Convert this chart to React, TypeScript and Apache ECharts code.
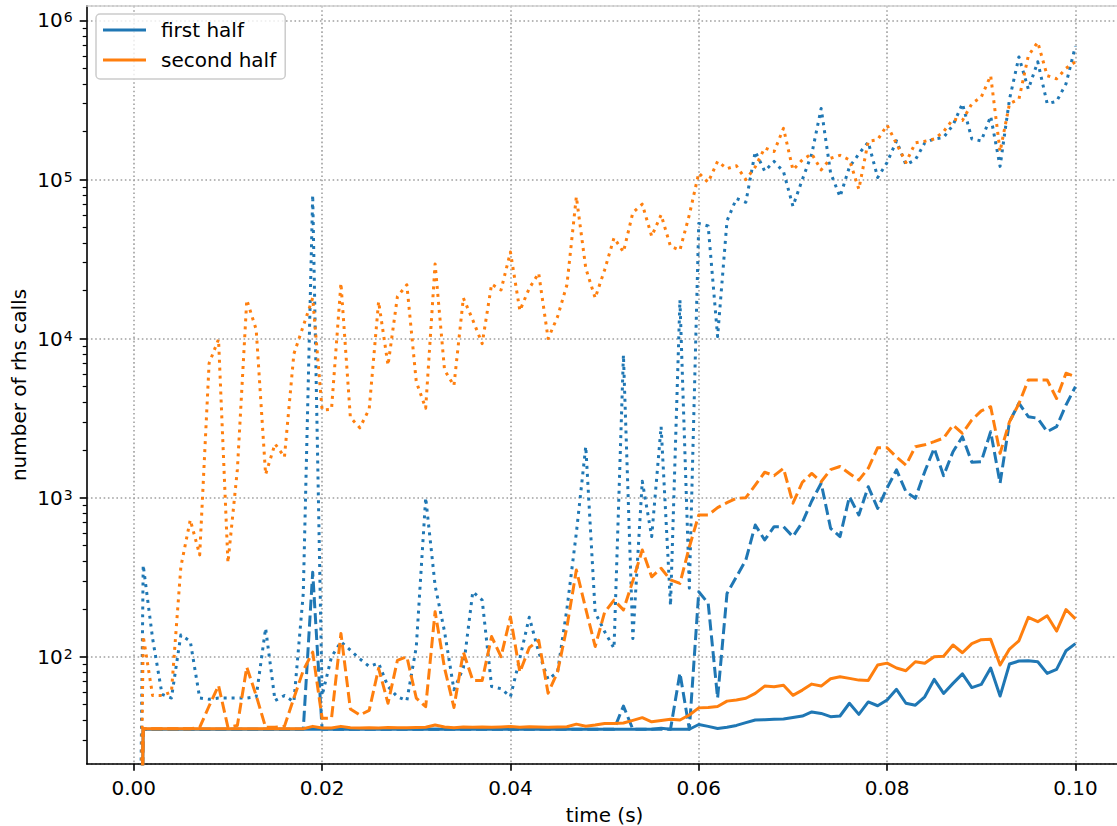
import React, { useEffect, useRef } from "react";
import * as echarts from "echarts";

// time (s)
const time = [
  0, 0.001, 0.002, 0.003, 0.004, 0.005, 0.006, 0.007, 0.008, 0.009, 0.01,
  0.011, 0.012, 0.013, 0.014, 0.015, 0.016, 0.017, 0.018, 0.019, 0.02,
  0.021, 0.022, 0.023, 0.024, 0.025, 0.026, 0.027, 0.028, 0.029, 0.03,
  0.031, 0.032, 0.033, 0.034, 0.035, 0.036, 0.037, 0.038, 0.039, 0.04,
  0.041, 0.042, 0.043, 0.044, 0.045, 0.046, 0.047, 0.048, 0.049, 0.05,
  0.051, 0.052, 0.053, 0.054, 0.055, 0.056, 0.057, 0.058, 0.059, 0.06,
  0.061, 0.062, 0.063, 0.064, 0.065, 0.066, 0.067, 0.068, 0.069, 0.07,
  0.071, 0.072, 0.073, 0.074, 0.075, 0.076, 0.077, 0.078, 0.079, 0.08,
  0.081, 0.082, 0.083, 0.084, 0.085, 0.086, 0.087, 0.088, 0.089, 0.09,
  0.091, 0.092, 0.093, 0.094, 0.095, 0.096, 0.097, 0.098, 0.099, 0.1,
];

// number of rhs calls — first half (blue)
const firstHalfSolid = [
  0,
  35, 35, 35, 35, 35, 35, 35, 35, 35, 35,
  35, 35, 35, 35, 35, 35, 35, 35, 35, 35,
  35, 35, 35, 35, 35, 35, 35, 35, 35, 35,
  35, 35, 35, 35, 35, 35, 35, 35, 35, 35,
  35, 35, 35, 35, 35, 35, 35, 35, 35, 35,
  35, 35, 35, 35, 35, 35.5, 35, 35, 35, 37.5,
  36.5, 35.4, 36, 37, 38.5, 40, 40.2, 40.4, 40.6, 41.5,
  42.4, 45, 44, 42, 42.4, 51, 43.4, 52, 49.2, 53.4,
  62.4, 51, 49.6, 56, 72, 58.8, 68, 78, 64, 67,
  85, 56.6, 90, 94, 94.4, 93, 78.6, 83.3, 109, 121,
];
const firstHalfDashed = [
  0,
  35, 35, 35, 35, 35, 35, 35, 35, 35, 35,
  35, 35, 35, 35, 35, 35, 35, 35, 340, 35,
  35, 35, 35, 35, 35, 35, 35, 35, 35, 35,
  35, 35, 35, 35, 35, 35, 35, 35, 35, 35,
  35, 35, 35, 35, 35, 35, 35, 35, 35, 35,
  35, 49, 35, 35, 35, 35, 35, 79, 35, 256,
  217, 55, 250, 318, 406, 673, 542, 657, 657, 569,
  700, 953, 1233, 642, 569, 1014, 778, 1172, 857, 1150,
  1494, 1091, 991, 1458, 2046, 1375, 1946, 2418, 1670, 1684,
  2600, 1233, 3006, 3926, 3230, 3157, 2600, 2796, 3828, 4989,
];
const firstHalfDotted = [
  0,
  377, 130, 58, 55, 137, 125, 55, 54, 55, 55,
  55, 55, 56, 151, 53, 57, 52, 250, 80000, 57,
  100, 124, 110, 97, 87, 91, 65, 56, 53, 115,
  1000, 280, 144, 62, 85, 256, 227, 65, 63, 56,
  98, 177, 107, 72, 80, 200, 600, 2100, 190, 144,
  113, 7900, 130, 1270, 570, 2800, 210, 17500, 270, 53000,
  51000, 10300, 55000, 76000, 72000, 150000, 113000, 130000, 112000, 68000,
  100000, 145000, 280000, 110000, 78000, 120000, 145000, 172000, 103000, 128000,
  175000, 124000, 133000, 170000, 180000, 184000, 220000, 300000, 180000, 175000,
  250000, 121000, 320000, 590000, 370000, 550000, 300000, 310000, 400000, 690000,
];

// number of rhs calls — second half (orange)
const secondHalfSolid = [
  0,
  35.3, 35.3, 35.3, 35.3, 35.3, 35.3, 35.3, 35.3, 35.3, 35.3,
  35.3, 35.3, 35.3, 35.3, 35.3, 35.3, 35.3, 35.3, 36.5, 35.6,
  35.6, 36.5, 35.8, 35.6, 35.8, 35.7, 35.9, 35.8, 35.8, 35.9,
  36, 37.2, 36.2, 35.8, 36.2, 36, 36.1, 36, 36.2, 36.4,
  36, 36.3, 36.2, 36, 36.1, 36.3, 37.7, 36.6, 37.2, 38,
  38, 38.3, 39.8, 41.4, 39, 39.7, 40.4, 40, 43, 47.7,
  48, 48.7, 52.6, 53.5, 54.8, 58.8, 65.4, 64.8, 66.1, 57.2,
  61.7, 67.3, 65.4, 72.7, 74.9, 73.1, 71.3, 71, 88.7, 91.2,
  85, 81.7, 93, 90.9, 100, 100.6, 118.5, 106, 121, 128,
  128.6, 88.7, 111.8, 126, 177, 166, 181, 145, 198, 173,
];
const secondHalfDashed = [
  0,
  35.3, 35.3, 35.3, 35.3, 35.3, 35.3, 36, 49, 66, 36,
  37, 86, 57, 36, 36, 36.5, 55, 82, 107, 41,
  41, 140, 47, 43, 46, 84.5, 51, 95, 100, 55,
  48.5, 192, 85, 48, 107, 71, 71, 134, 100, 178,
  80, 114, 127, 59, 80, 154, 351, 200, 116, 190,
  227, 197, 300, 469, 318, 360, 304, 289, 490, 778,
  778, 866, 930, 990, 1000, 1200, 1445, 1375, 1530, 923,
  1250, 1420, 1260, 1500, 1570, 1420, 1290, 1530, 2060, 2060,
  1800, 1600, 2090, 2150, 2250, 2370, 2860, 2540, 3080, 3510,
  3730, 1900, 3000, 3900, 5500, 5500, 5500, 4200, 6060, 5770,
];
const secondHalfDotted = [
  0,
  135, 57, 57, 60, 368, 725, 437, 7000, 9900, 390,
  1500, 17500, 11400, 1400, 2180, 1800, 8000, 12000, 18000, 3560,
  3600, 22300, 3200, 2750, 3600, 17100, 6800, 18400, 21800, 5360,
  3650, 29500, 6350, 5060, 18000, 13100, 9300, 22000, 20200, 35000,
  15000, 20700, 25800, 10000, 13700, 21800, 78000, 27700, 18000, 27000,
  43000, 35000, 62000, 70000, 44000, 60000, 38000, 36000, 60000, 110000,
  96000, 130000, 117000, 122000, 100000, 120000, 158000, 150000, 210000, 115000,
  133000, 145000, 115000, 136000, 142000, 133000, 87000, 174000, 178000, 220000,
  168000, 128000, 170000, 174000, 180000, 200000, 240000, 235000, 300000, 330000,
  450000, 150000, 300000, 320000, 600000, 730000, 450000, 430000, 500000, 550000,
];

const xTickValues = [0, 0.02, 0.04, 0.06, 0.08, 0.1];
const legendNames = ["first half", "second half"];

const FONT = "'DejaVu Sans', sans-serif";
const BLUE = "#1f77b4";
const ORANGE = "#ff7f0e";
const X_MIN = -0.005;
const X_MAX = 0.105;
const Y_MIN = 21.26;
const Y_MAX = 1.235e6;
// a zero count cannot sit on a log axis: it is drawn far below the visible range
const ZERO_ON_LOG = 1e-3;

const SOLID = "solid";
const DASHED = [11.1, 4.8];
const DOTTED = [3, 4.95];

const gridLine = { color: "#a0a0a0", width: 1.6, type: [1.6, 2.64] };

function makeSeries(name: string, color: string, values: number[], type: any) {
  return {
    name,
    type: "line",
    symbol: "none",
    xAxisIndex: 0,
    yAxisIndex: 0,
    clip: true,
    emphasis: { disabled: true },
    data: time.map((t, i) => [t, values[i] > 0 ? values[i] : ZERO_ON_LOG]),
    lineStyle: { color, width: 3, type, cap: "butt", join: "round" },
    itemStyle: { color },
  };
}

const lgMin = Math.log10(Y_MIN);
const lgMax = Math.log10(Y_MAX);
const majorLog: number[] = [];
const minorLog: number[] = [];
for (let k = 1; k <= 6; k++) {
  if (k >= lgMin && k <= lgMax) majorLog.push(k);
  for (let m = 2; m <= 9; m++) {
    const v = k + Math.log10(m);
    if (v >= lgMin && v <= lgMax) minorLog.push(v);
  }
}

function tickAxis(values: number[], length: number, width: number) {
  return {
    type: "value",
    min: lgMin,
    max: lgMax,
    position: "left",
    axisLine: { show: false, onZero: false },
    axisTick: {
      show: true,
      length,
      customValues: values,
      lineStyle: { color: "#000", width },
    },
    axisLabel: { show: false },
    splitLine: { show: false },
  };
}

const option: any = {
  animation: false,
  backgroundColor: "#ffffff",
  grid: {
    left: 86.7,
    top: 5.9,
    width: 1035.8,
    height: 757.8,
    containLabel: false,
    outerBoundsMode: "none",
  },
  legend: {
    data: legendNames,
    orient: "vertical",
    left: 96,
    top: 14,
    padding: [6, 9, 9, 7],
    itemWidth: 43,
    itemHeight: 3,
    itemGap: 10,
    icon: "rect",
    selectedMode: false,
    backgroundColor: "rgba(255,255,255,0.8)",
    borderColor: "#cccccc",
    borderWidth: 1.5,
    borderRadius: 4,
    textStyle: {
      fontSize: 20,
      lineHeight: 20,
      fontFamily: FONT,
      color: "#000",
      padding: [0, 0, 0, 10],
    },
  },
  xAxis: [
    {
      type: "value",
      min: X_MIN,
      max: X_MAX,
      position: "bottom",
      axisLine: { show: true, onZero: false, lineStyle: { color: "#000", width: 1.6 } },
      axisTick: {
        show: true,
        length: 7,
        customValues: xTickValues,
        lineStyle: { color: "#000", width: 1.6 },
      },
      axisLabel: {
        customValues: xTickValues,
        formatter: (v: number) => v.toFixed(2),
        fontSize: 20,
        fontFamily: FONT,
        color: "#000",
        margin: 14,
      },
      splitLine: { show: true, lineStyle: gridLine },
    },
    {
      type: "value",
      min: X_MIN,
      max: X_MAX,
      position: "top",
      axisLine: { show: true, onZero: false, lineStyle: { color: "#d0d0d0", width: 1.6 } },
      axisTick: { show: false },
      axisLabel: { show: false },
      splitLine: { show: false },
    },
  ],
  yAxis: [
    {
      type: "log",
      logBase: 10,
      min: Y_MIN,
      max: Y_MAX,
      position: "left",
      axisLine: { show: true, onZero: false, lineStyle: { color: "#000", width: 1.6 } },
      axisTick: { show: false },
      axisLabel: {
        showMinLabel: false,
        showMaxLabel: false,
        margin: 14,
        formatter: (v: number) => `{b|10}{s|${Math.round(Math.log10(v))}}`,
        rich: {
          b: {
            fontSize: 20,
            lineHeight: 20,
            fontFamily: FONT,
            color: "#000",
            verticalAlign: "bottom",
            padding: [2, 0, 0, 0],
          },
          s: {
            fontSize: 14,
            lineHeight: 14,
            fontFamily: FONT,
            color: "#000",
            verticalAlign: "top",
            padding: [0, 0, 8, 1],
          },
        },
      },
      splitLine: { show: true, lineStyle: gridLine },
    },
    tickAxis(majorLog, 7, 1.6),
    tickAxis(minorLog, 4, 1.2),
  ],
  graphic: [
    {
      type: "text",
      x: 604.6,
      y: 815,
      style: {
        text: "time (s)",
        fontSize: 20,
        fontFamily: FONT,
        fill: "#000",
        align: "center",
        verticalAlign: "middle",
      },
    },
    {
      type: "text",
      x: 19,
      y: 385,
      rotation: Math.PI / 2,
      style: {
        text: "number of rhs calls",
        fontSize: 20,
        fontFamily: FONT,
        fill: "#000",
        align: "center",
        verticalAlign: "middle",
      },
    },
  ],
  series: [
    makeSeries("first half", BLUE, firstHalfSolid, SOLID),
    makeSeries("first half", BLUE, firstHalfDashed, DASHED),
    makeSeries("first half", BLUE, firstHalfDotted, DOTTED),
    makeSeries("second half", ORANGE, secondHalfSolid, SOLID),
    makeSeries("second half", ORANGE, secondHalfDashed, DASHED),
    makeSeries("second half", ORANGE, secondHalfDotted, DOTTED),
  ],
};

export default function App() {
  const ref = useRef<HTMLDivElement>(null);
  useEffect(() => {
    if (!ref.current) return;
    const chart = echarts.init(ref.current, null, { renderer: "svg" });
    chart.setOption(option);
    return () => chart.dispose();
  }, []);
  return (
    <div
      ref={ref}
      style={{ position: "absolute", left: 0, top: 0, width: 1117, height: 826, background: "#fff" }}
    />
  );
}
